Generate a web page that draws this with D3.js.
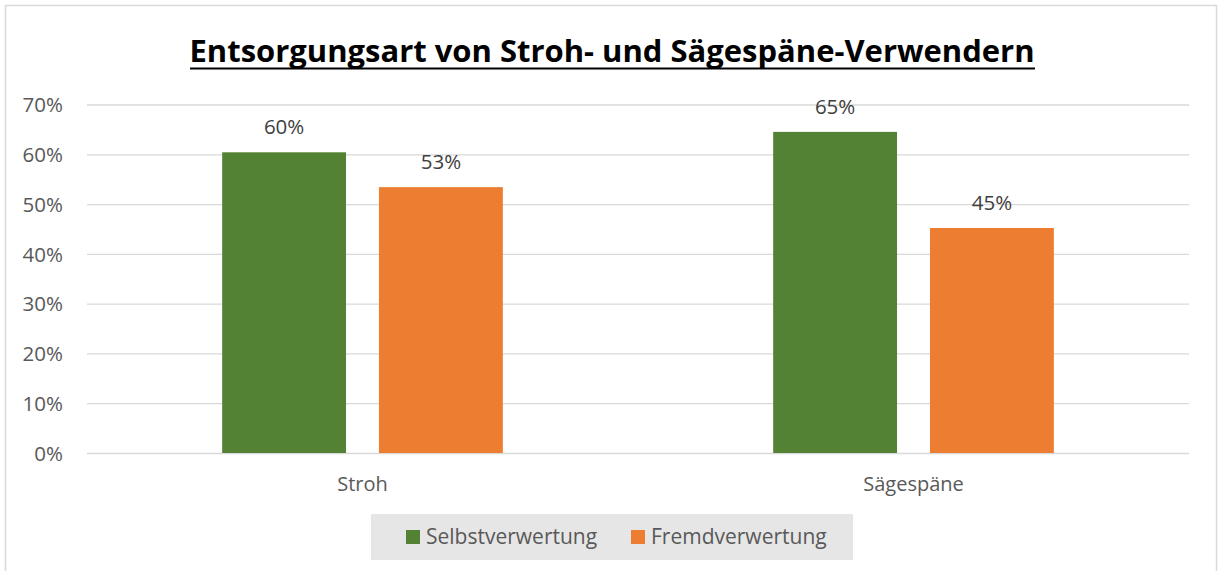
<!DOCTYPE html>
<html><head><meta charset="utf-8">
<script src="https://cdn.jsdelivr.net/npm/d3@7"></script>
<style>body{margin:0;background:#fff}svg{display:block}text{font-family:"Open Sans","Noto Sans",sans-serif}</style>
</head><body><svg id="c" width="1219" height="571"></svg>
<script>
const categories = ["Stroh", "Sägespäne"];
const seriesNames = ["Selbstverwertung", "Fremdverwertung"];
const selbst = [60.4, 64.5];
const fremd = [53.4, 45.2];
const labelsSelbst = ["60%", "65%"];
const labelsFremd = ["53%", "45%"];
const yTicks = [0, 10, 20, 30, 40, 50, 60, 70];
const colors = ["#548235", "#ED7D31"];

const svg = d3.select("#c");
svg.append("rect").attr("x",5.5).attr("y",5.5).attr("width",1211).attr("height",580)
  .attr("fill","#fff").attr("stroke","#d9d9d9").attr("stroke-width",1.5);

const left = 87, right = 1189;
const x0 = d3.scaleBand().domain(categories).range([left, right]).paddingInner(0).paddingOuter(0);
const x1 = d3.scaleBand().domain(seriesNames).range([0, x0.bandwidth()]).paddingInner(0.21).paddingOuter(0.862);
const y = d3.scaleLinear().domain([0, 70]).range([453, 104.5]);

// gridlines
const yAxis = d3.axisLeft(y).tickValues(yTicks).tickSize(-(right-left)).tickFormat(d => d + "%");
const gy = svg.append("g").attr("transform", `translate(${left},0)`).call(yAxis);
gy.select(".domain").remove();
gy.selectAll(".tick line").attr("stroke","#d9d9d9").attr("stroke-width",1.3);
gy.selectAll(".tick text").attr("x",-24).attr("fill","#595959").style("font-size","20.5px").attr("dy","0.35em");

// bars
const data = categories.map((c,i)=>({cat:c, vals:[
  {s:seriesNames[0], v:selbst[i], l:labelsSelbst[i]},
  {s:seriesNames[1], v:fremd[i], l:labelsFremd[i]}]}));
const g = svg.selectAll(".grp").data(data).enter().append("g")
  .attr("transform", d => `translate(${x0(d.cat)},0)`);
g.selectAll("rect").data(d=>d.vals).enter().append("rect")
  .attr("x", d=>x1(d.s)).attr("width", x1.bandwidth())
  .attr("y", d=>y(d.v)).attr("height", d=>y(0)-y(d.v))
  .attr("fill", (d,i)=>colors[i]);
g.selectAll("text").data(d=>d.vals).enter().append("text")
  .attr("x", d=>x1(d.s)+x1.bandwidth()/2).attr("y", d=>y(d.v)-18)
  .attr("text-anchor","middle").attr("fill","#404040").style("font-size","20.5px")
  .text(d=>d.l);

// x axis labels
const xAxis = d3.axisBottom(x0).tickSize(0).tickPadding(0);
const gx = svg.append("g").attr("transform","translate(0,484)").call(xAxis);
gx.select(".domain").remove();
gx.selectAll(".tick text").attr("fill","#595959").style("font-size","20px").attr("dy","0.35em");

// title
const title = svg.append("text").attr("x",612).attr("y",62).attr("text-anchor","middle")
  .attr("fill","#000").style("font-size","31px").style("font-weight","bold")
  .attr("textLength",845).attr("lengthAdjust","spacingAndGlyphs")
  .text("Entsorgungsart von Stroh- und Sägespäne-Verwendern");
svg.append("line").attr("x1",190).attr("x2",1035).attr("y1",68.5).attr("y2",68.5)
  .attr("stroke","#000").attr("stroke-width",2.2);

// legend
svg.append("rect").attr("x",371).attr("y",514).attr("width",482).attr("height",46).attr("fill","#e6e6e6");
const legX = [406, 631];
const lg = svg.selectAll(".leg").data(seriesNames).enter().append("g")
  .attr("transform",(d,i)=>`translate(${legX[i]},530)`);
lg.append("rect").attr("width",14).attr("height",14).attr("fill",(d,i)=>colors[i]);
lg.append("text").attr("x",20).attr("y",7).attr("dy","0.35em").attr("fill","#595959")
  .style("font-size","21px").text(d=>d);
</script></body></html>
